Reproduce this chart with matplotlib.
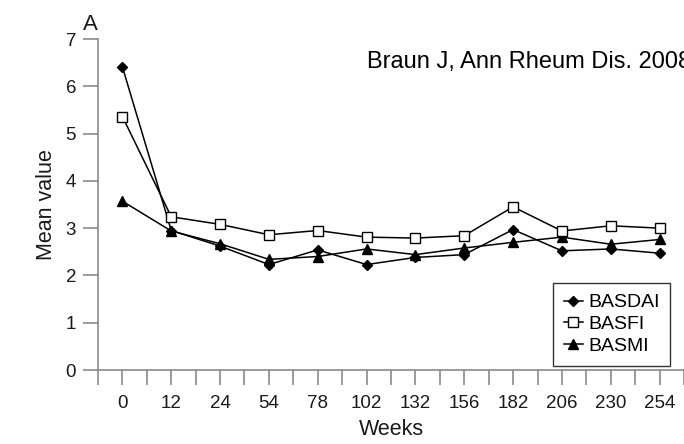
import numpy as np
import matplotlib
matplotlib.use("Agg")
import matplotlib.pyplot as plt

plt.rcParams['font.family'] = ['Liberation Sans', 'DejaVu Sans']

weeks = ['0', '12', '24', '54', '78', '102', '132', '156', '182', '206', '230', '254']
basdai = [6.41, 2.95, 2.62, 2.23, 2.54, 2.23, 2.38, 2.44, 2.97, 2.52, 2.56, 2.47]
basfi = [5.36, 3.24, 3.08, 2.86, 2.95, 2.81, 2.79, 2.84, 3.45, 2.94, 3.05, 3.00]
basmi = [3.57, 2.94, 2.67, 2.34, 2.40, 2.56, 2.44, 2.58, 2.70, 2.81, 2.66, 2.76]

axis_grey = '#8a8a8a'
ink = '#1a1a1a'

fig = plt.figure(figsize=(6.84, 4.44), dpi=100)
ax = fig.add_axes([98 / 684, 74 / 444, 586 / 684, 331 / 444])

x = np.arange(len(weeks))
ax.plot(x, basdai, color='black', lw=1.1, marker='D', ms=5.6, mfc='black', mec='black', label='BASDAI', zorder=3)
ax.plot(x, basfi, color='black', lw=1.1, marker='s', ms=7, mfc='white', mec='black', mew=1.0, label='BASFI', zorder=4)
ax.plot(x, basmi, color='black', lw=1.1, marker='^', ms=7.5, mfc='black', mec='black', label='BASMI', zorder=3)

ax.set_xlim(-0.5, -0.5 + 586 / 49)
ax.set_ylim(0, 7)

for s in ['top', 'right']:
    ax.spines[s].set_visible(False)
for s in ['left', 'bottom']:
    ax.spines[s].set_color(axis_grey)
    ax.spines[s].set_linewidth(1.2)

ax.set_xticks(x)
ax.set_xticklabels(weeks)
ax.set_xticks(np.arange(-0.5, len(weeks), 1), minor=True)
ax.set_yticks(range(8))
ax.tick_params(axis='both', which='both', direction='out', color=axis_grey, width=1.2,
               labelsize=13.5, labelcolor=ink)
ax.tick_params(axis='x', which='both', length=10.8, pad=7)
ax.tick_params(axis='y', length=10.8, pad=5)

ax.set_xlabel('Weeks', fontsize=15.5, color=ink, labelpad=5)
ax.set_ylabel('Mean value', fontsize=15.5, color=ink, labelpad=6)

leg = ax.legend(loc='upper left', bbox_to_anchor=((553 - 98) / 586, (370 - 283) / 331),
                borderaxespad=0, fontsize=14, handlelength=1.0, handletextpad=0.25,
                labelspacing=0.22, borderpad=0.55, fancybox=False, framealpha=1)
leg.get_frame().set_edgecolor('#333333')
leg.get_frame().set_linewidth(1.0)

fig.text(90.5 / 684, 1 - 29.5 / 444, 'A', fontsize=16, color=ink, ha='center', va='baseline')
# the source figure is cropped on the right, so the citation runs off the edge
fig.text(367 / 684, 1 - 68 / 444, 'Braun J, Ann Rheum Dis. 2008', fontsize=17,
         color='black', ha='left', va='baseline')

fig.savefig('out.png', dpi=100)
